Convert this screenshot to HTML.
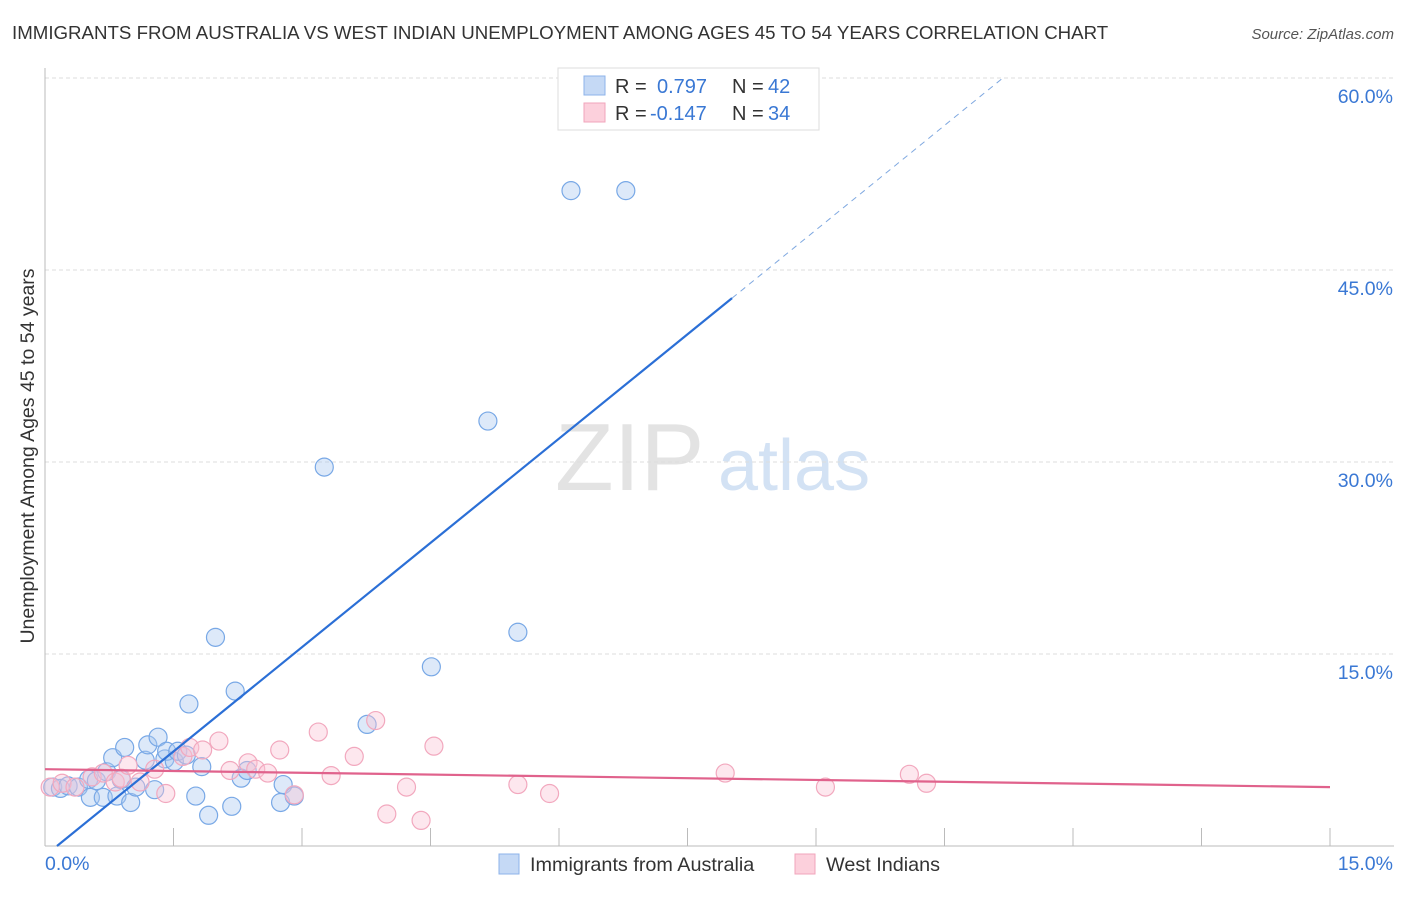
<!DOCTYPE html>
<html><head><meta charset="utf-8"><style>
body{margin:0;background:#fff;font-family:"Liberation Sans",sans-serif;}
svg text{font-family:"Liberation Sans",sans-serif;}
</style></head><body>
<svg id="chart" width="1406" height="892">
<text x="12" y="39" font-size="18.7" fill="#333">IMMIGRANTS FROM AUSTRALIA VS WEST INDIAN UNEMPLOYMENT AMONG AGES 45 TO 54 YEARS CORRELATION CHART</text>
<text x="1394" y="39" font-size="15" fill="#555" text-anchor="end" font-style="italic">Source: ZipAtlas.com</text>
<text x="0" y="0" transform="translate(34,456) rotate(-90)" font-size="19.5" fill="#333" text-anchor="middle">Unemployment Among Ages 45 to 54 years</text>
<g><text x="555" y="490" font-size="96" fill="#ddd" font-family="Liberation Serif" opacity="0.8">ZIP</text><text x="718" y="490" font-size="72" fill="#c9dbf2" opacity="0.8">atlas</text></g>
<g id="grid"></g><g id="axes"></g><g id="marks"></g>
<g>
<rect x="558" y="68" width="261" height="62" fill="#fff" stroke="#ddd"/>
<rect x="584" y="76" width="21" height="19" fill="#c5d9f5" stroke="#8db3ea"/>
<rect x="584" y="103" width="21" height="19" fill="#fcd0dc" stroke="#f1a5bb"/>
<text x="615" y="93" font-size="20" fill="#333">R =</text><text x="657" y="93" font-size="20" fill="#3a78d4">0.797</text>
<text x="732" y="93" font-size="20" fill="#333">N =</text><text x="768" y="93" font-size="20" fill="#3a78d4">42</text>
<text x="615" y="120" font-size="20" fill="#333">R =</text><text x="650" y="120" font-size="20" fill="#3a78d4">-0.147</text>
<text x="732" y="120" font-size="20" fill="#333">N =</text><text x="768" y="120" font-size="20" fill="#3a78d4">34</text>
</g>
<g>
<rect x="499" y="854" width="20" height="20" fill="#c5d9f5" stroke="#8db3ea"/>
<text x="530" y="871" font-size="19.8" fill="#333">Immigrants from Australia</text>
<rect x="795" y="854" width="20" height="20" fill="#fcd0dc" stroke="#f1a5bb"/>
<text x="826" y="871" font-size="19.8" fill="#333">West Indians</text>
</g>
</svg>
<script>
const yTicks=[15,30,45,60];
const yTickLabels=["15.0%","30.0%","45.0%","60.0%"];
const xEdgeLabels=["0.0%","15.0%"];
const blueX=[0.09,0.18,0.27,0.39,0.51,0.6,0.53,0.68,0.72,0.79,0.84,0.89,0.93,1.0,1.06,1.17,1.2,1.28,1.32,1.4,1.42,1.51,1.55,1.65,1.68,1.76,1.83,1.91,1.99,2.18,2.22,2.29,2.36,2.75,2.78,2.91,3.26,3.76,4.51,5.17,5.52,6.14,6.78];
const blueY=[4.6,4.5,4.7,4.6,5.2,5.1,3.8,3.8,5.8,6.9,3.9,5.2,7.7,3.4,4.6,6.7,7.9,4.4,8.5,6.8,7.4,6.6,7.4,7.1,11.1,3.9,6.2,2.4,16.3,3.1,12.1,5.3,5.9,3.4,4.8,3.9,29.6,9.5,14.0,33.2,16.7,51.2,51.2];
const pinkX=[0.06,0.2,0.35,0.55,0.68,0.82,0.89,0.97,1.11,1.28,1.41,1.61,1.69,1.84,2.03,2.16,2.37,2.46,2.6,2.74,2.91,3.19,3.34,3.61,3.86,3.99,4.22,4.39,4.54,5.52,5.89,7.94,9.11,10.09,10.29];
const pinkY=[4.6,4.9,4.6,5.4,5.7,5.0,5.3,6.3,5.0,6.0,4.1,7.0,7.7,7.5,8.2,5.9,6.5,6.0,5.7,7.5,4.0,8.9,5.5,7.0,9.8,2.5,4.6,2.0,7.8,4.8,4.1,5.7,4.6,5.6,4.9];
const blueLine=[[0.14,0],[8.02,42.8]];
const blueDash=[[8.02,42.8],[11.2,60.1]];
const pinkLine=[[0,6.0],[15,4.6]];
const X=v=>45+v/15*1285, Y=v=>846-v/15*192;
const NS="http://www.w3.org/2000/svg";
function mk(t,a,p){const e=document.createElementNS(NS,t);for(const k in a)e.setAttribute(k,a[k]);p.appendChild(e);return e;}
const grid=document.getElementById('grid'),axes=document.getElementById('axes'),marks=document.getElementById('marks');
yTicks.forEach((t,i)=>{
 const l=mk('line',{x1:45,x2:1394,y1:Y(t),y2:Y(t),stroke:'#ddd','stroke-dasharray':'4,3'},grid);
 
 
 const tx=mk('text',{x:1393,y:Y(t)+25,'font-size':19.5,fill:'#3a78d4','text-anchor':'end'},axes);tx.textContent=yTickLabels[i];
 
 
});
mk('line',{x1:45,x2:45,y1:68,y2:846,stroke:'#bbb'},axes);
mk('line',{x1:45,x2:1394,y1:846,y2:846,stroke:'#bbb'},axes);
for(let i=1;i<=10;i++){const x=X(i*1.5);mk('line',{x1:x,x2:x,y1:828,y2:846,stroke:'#bbb'},axes);}
let t1=mk('text',{x:45,y:870,'font-size':19.5,fill:'#3a78d4'},axes);t1.textContent=xEdgeLabels[0];


let t2=mk('text',{x:1393,y:870,'font-size':19.5,fill:'#3a78d4','text-anchor':'end'},axes);t2.textContent=xEdgeLabels[1];


blueX.forEach((v,i)=>{const c=mk('circle',{cx:X(v),cy:Y(blueY[i]),r:9,fill:'rgba(170,200,240,0.4)',stroke:'#78a8e6','stroke-width':1.2},marks);
 
 });
pinkX.forEach((v,i)=>{const c=mk('circle',{cx:X(v),cy:Y(pinkY[i]),r:9,fill:'rgba(250,195,212,0.4)',stroke:'#f2a8be','stroke-width':1.2},marks);
 
 });
let bl=mk('line',{x1:X(blueLine[0][0]),y1:Y(blueLine[0][1]),x2:X(blueLine[1][0]),y2:Y(blueLine[1][1]),stroke:'#2b6fd6','stroke-width':2.2},marks);


let bd=mk('line',{x1:X(blueDash[0][0]),y1:Y(blueDash[0][1]),x2:X(blueDash[1][0]),y2:Y(blueDash[1][1]),stroke:'#7fa8e0','stroke-width':1,'stroke-dasharray':'6,5'},marks);


let pl=mk('line',{x1:X(pinkLine[0][0]),y1:Y(pinkLine[0][1]),x2:X(pinkLine[1][0]),y2:Y(pinkLine[1][1]),stroke:'#e0628c','stroke-width':2.2},marks);


</script>
</body></html>
